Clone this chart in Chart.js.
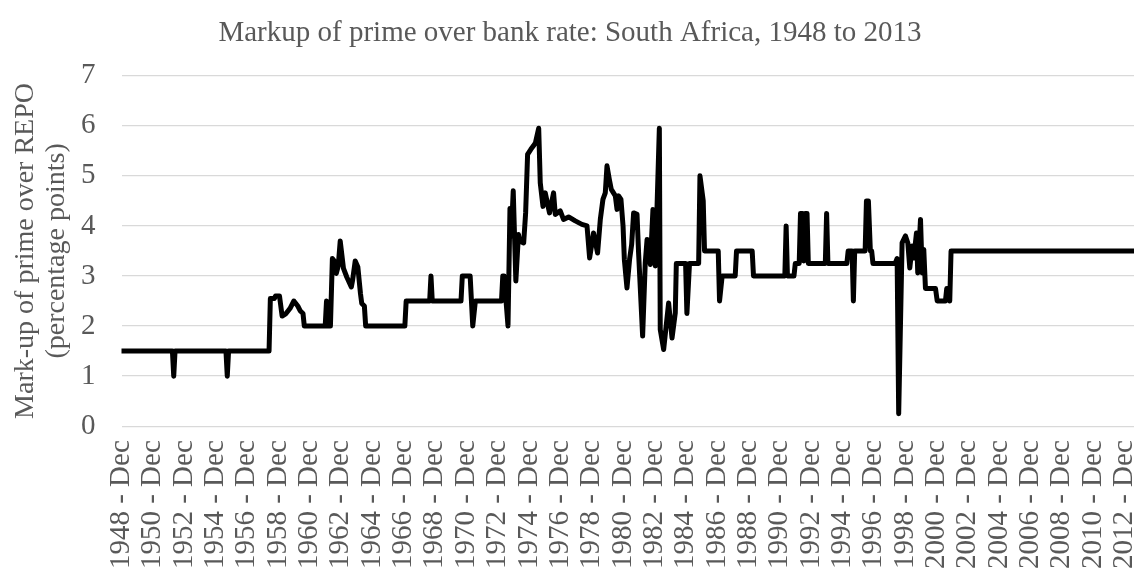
<!DOCTYPE html>
<html>
<head>
<meta charset="utf-8">
<script src="https://cdn.jsdelivr.net/npm/chart.js@4.4.1/dist/chart.umd.min.js"></script>
<style>
  html, body { margin: 0; padding: 0; background: #ffffff; overflow: hidden; width: 1134px; height: 572px; }
  #wrap { position: absolute; left: 0; top: 0; width: 1140px; height: 620px; }
</style>
</head>
<body>
<div id="wrap"><canvas id="c"></canvas></div>
<script>
const chartTitle = 'Markup of prime over bank rate: South Africa, 1948 to 2013';
const yAxisTitle = ['Mark-up of prime over REPO', '(percentage points)'];

// x: months since December 1948 (vertices of the line)
const monthIndex = [
  0,
  39, 40, 41,
  80, 81, 82,
  113, 114, 117, 118, 121, 123, 126, 129, 132, 135, 137, 139, 140,
  156, 157, 158,
  160, 161.5, 163, 164.5, 166, 167.5, 170, 172.5, 176, 177, 179, 181, 183, 184, 186, 187,
  217, 218,
  236, 237, 238,
  260, 261, 267, 269, 271,
  291, 292, 293, 296, 297.5, 298.5, 300, 302, 304, 305, 308, 309.5, 311, 313.5, 315.5, 317, 319.5,
  320.7, 322.8, 324.5, 327.8, 330.9, 332.2, 336, 338.5, 342.4, 347.5, 352.6, 356.5, 358.5, 361.5,
  364.6, 366.7, 368.7, 370.5, 371.8, 373.6, 375.1, 378.2, 379.5, 380.7, 382.5, 384.1, 385.1, 387.1,
  389.1, 390.7, 392.2, 394.8, 396, 399.1, 401.1, 402.5, 405, 407, 408.8, 411.9, 412.6, 415.2, 419,
  421.6, 424.1, 424.9,
  432, 433, 435,
  442, 443, 445.5, 446.5,
  457, 458, 460,
  470, 471,
  483, 484,
  508, 509, 510,
  515, 516,
  519, 520, 521.5, 522.5, 523.5, 525, 526,
  539, 540, 541,
  555.5, 556.5,
  559.5, 560.5, 561.5,
  569.5, 570.5, 572, 573.5, 574.5, 575.5,
  592.5, 594, 595.2, 597.8, 600.4, 602.2, 603.7, 605.5, 606.8, 608.8, 609.8, 611.9, 613.2, 614.4, 615.7,
  623.4, 624.7, 631, 632, 633.5, 634.3, 635.3,
  780
];
const markup = [
  1.5,
  1.5, 1.0, 1.5,
  1.5, 1.0, 1.5,
  1.5, 2.55, 2.55, 2.6, 2.6, 2.2, 2.25, 2.35, 2.5, 2.4, 2.3, 2.25, 2.0,
  2.0, 2.5, 2.0,
  2.0, 3.35, 3.3, 3.05, 3.2, 3.7, 3.15, 2.98, 2.78, 2.92, 3.3, 3.18, 2.65, 2.45, 2.4, 2.0,
  2.0, 2.5,
  2.5, 3.0, 2.5,
  2.5, 3.0, 3.0, 2.0, 2.5,
  2.5, 3.0, 3.0, 2.0, 4.35, 3.8, 4.7, 2.9, 3.83, 3.7, 3.66, 4.26, 5.43, 5.53, 5.6, 5.66, 5.95,
  4.86, 4.39, 4.66, 4.26, 4.66, 4.23, 4.3, 4.13, 4.18, 4.1, 4.03, 4.0, 3.36, 3.86,
  3.46, 4.13, 4.53, 4.66, 5.2, 4.93, 4.73, 4.6, 4.33, 4.6, 4.53, 4.0, 3.33, 2.76,
  3.33, 3.63, 4.26, 4.23, 3.46, 1.8, 3.26, 3.73, 3.23, 4.33, 3.2, 5.95, 1.93, 1.53, 2.46,
  1.76, 2.26, 3.25,
  3.25, 2.25, 3.25,
  3.25, 5.0, 4.5, 3.5,
  3.5, 2.5, 3.0,
  3.0, 3.5,
  3.5, 3.0,
  3.0, 4.0, 3.0,
  3.0, 3.25,
  3.25, 4.25, 4.25, 3.3, 4.25, 4.25, 3.25,
  3.25, 4.25, 3.25,
  3.25, 3.5,
  3.5, 2.5, 3.5,
  3.5, 4.5, 4.5, 3.5, 3.5, 3.25,
  3.25, 3.35, 0.25, 3.66, 3.8, 3.66, 3.16, 3.6, 3.36, 3.86, 3.06, 4.13, 3.06, 3.53, 2.75,
  2.75, 2.5, 2.5, 2.75, 2.75, 2.5, 3.5,
  3.5
];

// category tick positions (months since Dec 1948) and their labels
const tickMonths = [0, 24, 48, 72, 96, 120, 144, 168, 192, 216, 240, 264, 288, 312, 336, 360,
  384, 408, 432, 456, 480, 504, 528, 552, 576, 600, 624, 648, 672, 696, 720, 744, 768];
const tickLabels = ['1948 - Dec', '1950 - Dec', '1952 - Dec', '1954 - Dec', '1956 - Dec', '1958 - Dec',
  '1960 - Dec', '1962 - Dec', '1964 - Dec', '1966 - Dec', '1968 - Dec', '1970 - Dec', '1972 - Dec',
  '1974 - Dec', '1976 - Dec', '1978 - Dec', '1980 - Dec', '1982 - Dec', '1984 - Dec', '1986 - Dec',
  '1988 - Dec', '1990 - Dec', '1992 - Dec', '1994 - Dec', '1996 - Dec', '1998 - Dec', '2000 - Dec',
  '2002 - Dec', '2004 - Dec', '2006 - Dec', '2008 - Dec', '2010 - Dec', '2012 - Dec'];
const yTicks = [0, 1, 2, 3, 4, 5, 6, 7];

const FONT = 'Liberation Serif, "Times New Roman", serif';
const GREY = '#595959';

new Chart(document.getElementById('c'), {
  type: 'line',
  data: {
    datasets: [{
      data: monthIndex.map((m, i) => ({ x: m, y: markup[i] })),
      borderColor: '#000000',
      borderWidth: 5,
      pointRadius: 0,
      tension: 0,
      borderJoinStyle: 'round',
      borderCapStyle: 'round',
      fill: false
    }]
  },
  options: {
    responsive: true,
    maintainAspectRatio: false,
    animation: false,
    layout: { padding: 0 },
    plugins: {
      legend: { display: false },
      tooltip: { enabled: false },
      title: {
        display: true,
        text: chartTitle,
        color: GREY,
        font: { family: FONT, size: 29, weight: 'normal', lineHeight: 1.2 },
        padding: { top: 15.6, bottom: 25.3 }
      }
    },
    scales: {
      x: {
        type: 'linear',
        min: 0,
        max: 780,
        afterBuildTicks: (s) => { s.ticks = tickMonths.map(v => ({ value: v })); },
        afterFit: (s) => { s.height = 620 - 426.2; s.paddingLeft = 0; s.paddingRight = 0; },
        grid: { display: false, drawTicks: false },
        border: { display: false },
        ticks: {
          autoSkip: false,
          minRotation: 90,
          maxRotation: 90,
          padding: 14,
          color: GREY,
          font: { family: FONT, size: 29 },
          callback: (v, i) => tickLabels[i]
        }
      },
      y: {
        min: 0,
        max: 7,
        afterBuildTicks: (s) => { s.ticks = yTicks.map(v => ({ value: v })); },
        afterFit: (s) => { s.width = 121.5; },
        grid: { color: '#d9d9d9', lineWidth: 1.3, drawTicks: false },
        border: { display: false },
        ticks: {
          padding: 26,
          color: GREY,
          font: { family: FONT, size: 29 }
        },
        title: {
          display: true,
          text: yAxisTitle,
          color: GREY,
          font: { family: FONT, size: 28, lineHeight: 1.12 },
          padding: { top: 9.5, bottom: 0 }
        }
      }
    }
  }
});
</script>
</body>
</html>
